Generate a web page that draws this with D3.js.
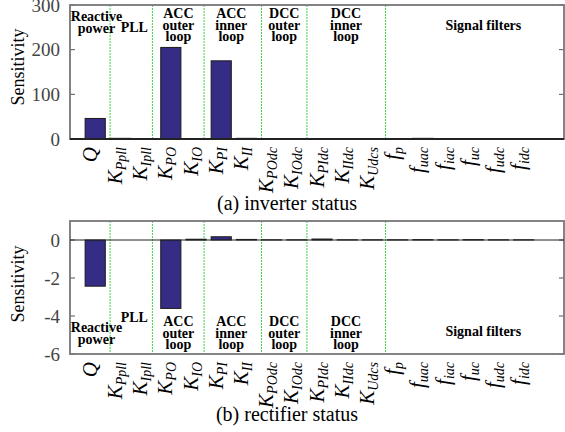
<!DOCTYPE html>
<html>
<head>
<meta charset="utf-8">
<script src="https://cdn.jsdelivr.net/npm/d3@7"></script>
<style>
  body { margin: 0; background: #fff; }
</style>
</head>
<body>
<script>
// parameters (symbol + subscript)
var categories = [
  ["Q", ""], ["K", "Ppll"], ["K", "Ipll"], ["K", "PO"], ["K", "IO"],
  ["K", "PI"], ["K", "II"], ["K", "POdc"], ["K", "IOdc"], ["K", "PIdc"],
  ["K", "IIdc"], ["K", "Udcs"], ["f", "p"], ["f", "uac"], ["f", "iac"],
  ["f", "uc"], ["f", "udc"], ["f", "idc"]
];
var inverterValues = [46, 1.5, 0.3, 205, 0.8, 175, 1.5, 0.3, 0.3, 0.5, 0.3, 0.3, 0.3, 1.5, 0.3, 0.3, 0.3, 0.3];
var rectifierValues = [-2.43, 0, 0, -3.6, 0.04, 0.17, 0.03, 0.01, 0.01, 0.05, 0.01, 0.01, 0.01, 0.02, 0.01, 0.02, 0.01, 0.01];
var inverterTicks = [0, 100, 200, 300];
var rectifierTicks = [0, -2, -4, -6];

// controller groups
var groupNames = [["Reactive", "power"], ["PLL"], ["ACC", "outer", "loop"], ["ACC", "inner", "loop"],
  ["DCC", "outer", "loop"], ["DCC", "inner", "loop"], ["Signal filters"]];
var groupCenters = [0.05, 1.55, 3.3, 5.4, 7.5, 9.95, 15.4];
var separators = [0.59, 2.27, 4.32, 6.6, 8.4, 11.52];

var w = 565;
var h = 432;
var serif = "'Liberation Serif', 'DejaVu Serif', 'Times New Roman', Times, serif";

var svg = d3.select("body").append("svg")
  .attr("width", w).attr("height", h)
  .attr("font-family", serif);
svg.append("rect").attr("width", w).attr("height", h).attr("fill", "white");

var x = d3.scaleLinear().domain([-1, 18.6]).range([70, 564]);

function panel(cfg) {
  var y = d3.scaleLinear().domain(cfg.domain).range([cfg.bottom, cfg.top]);
  var g = svg.append("g");

  // separators
  g.selectAll(".sep")
    .data(separators)
    .enter()
    .append("line")
    .attr("x1", function (d) { return x(d); })
    .attr("x2", function (d) { return x(d); })
    .attr("y1", cfg.top)
    .attr("y2", cfg.bottom)
    .style("stroke", "#3fd23f")
    .style("stroke-width", 1)
    .style("stroke-dasharray", "2,1");

  // ticks inside on both sides
  cfg.ticks.forEach(function (t) {
    g.append("line").attr("x1", 70).attr("x2", 75).attr("y1", y(t)).attr("y2", y(t))
      .style("stroke", "#555").style("stroke-width", 1);
    g.append("line").attr("x1", 559).attr("x2", 564).attr("y1", y(t)).attr("y2", y(t))
      .style("stroke", "#555").style("stroke-width", 1);
    g.append("text")
      .attr("x", 60)
      .attr("y", y(t))
      .attr("dy", "0.35em")
      .attr("text-anchor", "end")
      .attr("font-family", serif)
      .style("font-size", "19px")
      .style("fill", "#444")
      .text(t);
  });

  // bars
  g.selectAll(".bar")
    .data(cfg.values)
    .enter()
    .append("rect")
    .attr("x", function (d, i) { return x(i - 0.4); })
    .attr("width", function (d, i) { return x(i + 0.4) - x(i - 0.4); })
    .attr("y", function (d) { return y(Math.max(0, d)); })
    .attr("height", function (d) { return Math.abs(y(d) - y(0)); })
    .style("fill", "#352c85")
    .style("stroke", "#1a1a1a")
    .style("stroke-width", 1);

  // frame
  g.append("rect")
    .attr("x", 70).attr("y", cfg.top)
    .attr("width", 494).attr("height", cfg.bottom - cfg.top)
    .style("fill", "none").style("stroke", "#777").style("stroke-width", 1.8);

  // zero line
  g.append("line")
    .attr("x1", 70).attr("x2", 564).attr("y1", y(0)).attr("y2", y(0))
    .style("stroke", "#222").style("stroke-width", cfg.zeroWidth);

  // group labels
  groupNames.forEach(function (lines, k) {
    var t = g.append("text")
      .attr("text-anchor", "middle")
      .attr("font-family", serif)
      .style("font-size", "14px")
      .style("font-weight", "bold");
    lines.forEach(function (s, j) {
      t.append("tspan")
        .attr("x", x(groupCenters[k]))
        .attr("y", cfg.top + cfg.labelY[k] + j * 11.5)
        .text(s);
    });
  });

  // x labels
  categories.forEach(function (c, i) {
    var t = g.append("text")
      .attr("transform", "translate(" + (x(i) + 1.5) + "," + (cfg.bottom + 8) + ") rotate(-90)")
      .attr("text-anchor", "end")
      .attr("font-family", serif)
      .style("font-style", "italic");
    t.append("tspan").style("font-size", "21px").text(c[0]);
    if (c[1] != "") {
      t.append("tspan").attr("dy", 4).style("font-size", "14px").text(c[1]);
    }
  });

  // y title
  g.append("text")
    .attr("transform", "translate(24," + cfg.titleY + ") rotate(-90)")
    .attr("text-anchor", "middle")
    .attr("font-family", serif)
    .style("font-size", "18px")
    .text("Sensitivity");

  // caption
  g.append("text")
    .attr("x", 287)
    .attr("y", cfg.captionY)
    .attr("text-anchor", "middle")
    .attr("font-family", serif)
    .style("font-size", "20px")
    .text(cfg.caption);
}

panel({
  top: 5, bottom: 139, domain: [0, 300],
  values: inverterValues, ticks: inverterTicks,
  labelY: [16, 27, 13, 13, 13, 13, 25],
  zeroWidth: 1.8, titleY: 67, caption: "(a) inverter status", captionY: 210
});

panel({
  top: 221, bottom: 354, domain: [-6, 1],
  values: rectifierValues, ticks: rectifierTicks,
  labelY: [111, 101, 105, 105, 105, 105, 115],
  zeroWidth: 1, titleY: 284, caption: "(b) rectifier status", captionY: 421
});
</script>
</body>
</html>
